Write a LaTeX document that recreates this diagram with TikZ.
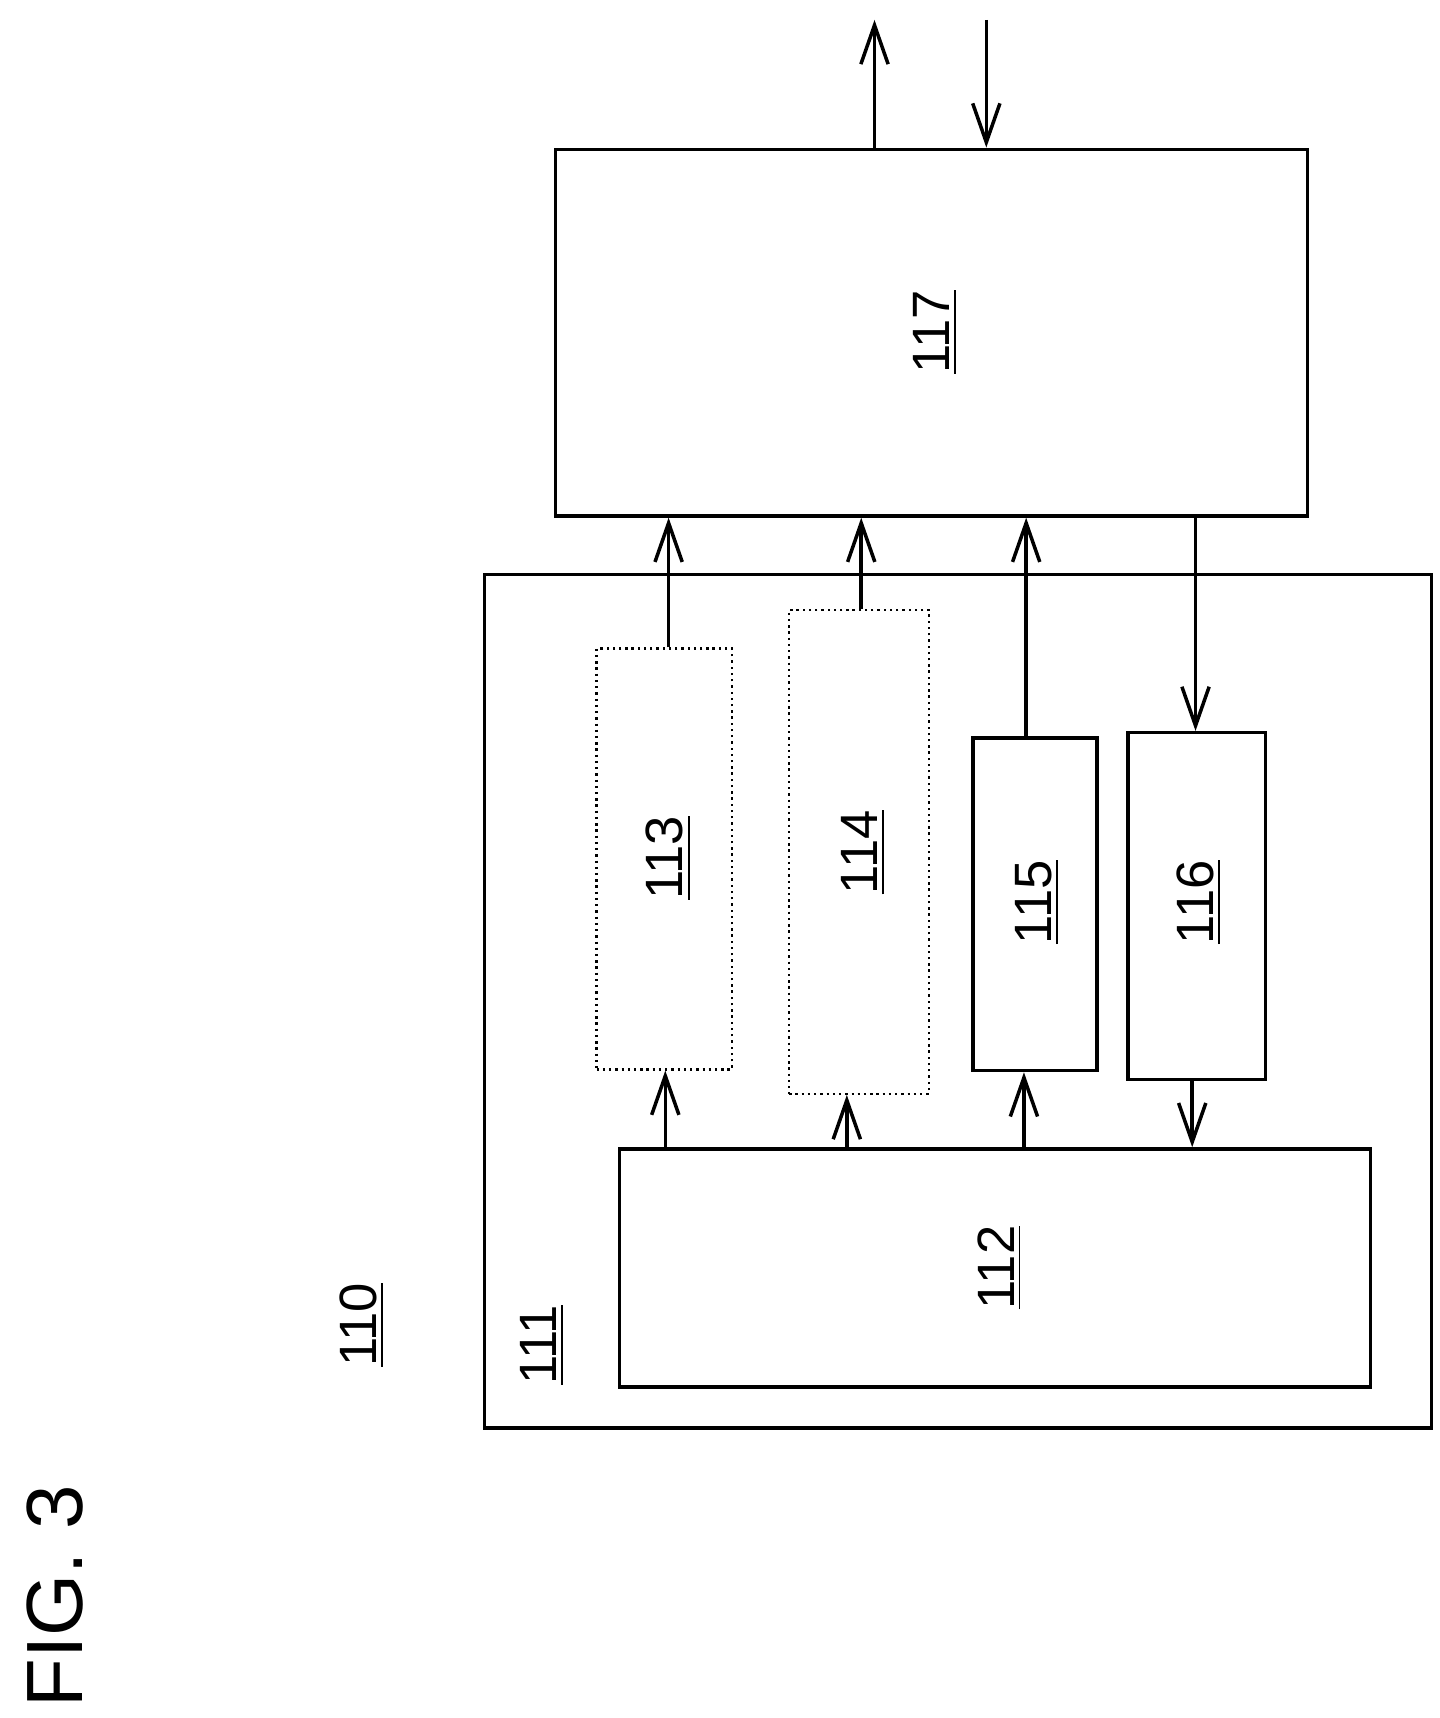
\documentclass[tikz,border=0pt]{standalone}
\usepackage{fontspec}
\setmainfont{Liberation Sans}
\usetikzlibrary{arrows.meta}
\begin{document}
\begin{tikzpicture}[x=0.01cm, y=-0.01cm,
  blk/.style={draw, line width=0.9pt, inner sep=0pt},
  dotblk/.style={blk, line width=0.6pt, densely dotted},
  lbl/.style={rotate=90, font=\fontsize{13.5}{14}\selectfont},
  arr/.style={line width=0.9pt, -{Straight Barb[length=10pt, width=7pt]}}]
  \useasboundingbox (0,0) rectangle (1300,1552);
  % Boxes
  \node[blk, minimum width=6.79cm, minimum height=3.31cm] (n117) at (841.5,300.5) {};
  \node[blk, minimum width=8.55cm, minimum height=7.71cm] (n111) at (865.5,904.5) {};
  \node[dotblk, minimum width=1.22cm, minimum height=3.80cm] (n113) at (600,776) {};
  \node[dotblk, minimum width=1.26cm, minimum height=4.37cm] (n114) at (776,769.5) {};
  \node[blk, minimum width=1.12cm, minimum height=3.00cm] (n115) at (935,817) {};
  \node[blk, minimum width=1.24cm, minimum height=3.13cm] (n116) at (1081,818.5) {};
  \node[blk, minimum width=6.78cm, minimum height=2.15cm] (n112) at (899,1145.5) {};
  % Labels
  \node[lbl] at (845,300) {\underline{117}};
  \node[lbl] at (604,775) {\underline{113}};
  \node[lbl] at (780,770) {\underline{114}};
  \node[lbl] at (937,815) {\underline{115}};
  \node[lbl] at (1083,815) {\underline{116}};
  \node[lbl] at (903,1145) {\underline{112}};
  \node[lbl] at (490,1215) {\underline{111}};
  \node[lbl] at (327,1197) {\underline{110}};
  \node[rotate=90, font=\fontsize{20.5}{22}\selectfont] (fig) at (50,1442) {FIG. 3};
  % External signals
  \coordinate (out) at (790,18);
  \coordinate (in) at (891,18);
  \draw[arr] (n117.north -| out) -- (out);
  \draw[arr] (in) -- (n117.north -| in);
  % Connections to 117
  \draw[arr] (n113.north -| 604,0) -- (n117.south -| 604,0);
  \draw[arr] (n114.north -| 778,0) -- (n117.south -| 778,0);
  \draw[arr] (n115.north -| 927,0) -- (n117.south -| 927,0);
  \draw[arr] (n117.south -| 1080,0) -- (n116.north -| 1080,0);
  % Connections to 112
  \draw[arr] (n112.north -| 601,0) -- (n113.south -| 601,0);
  \draw[arr] (n112.north -| 765,0) -- (n114.south -| 765,0);
  \draw[arr] (n112.north -| 925,0) -- (n115.south -| 925,0);
  \draw[arr] (n116.south -| 1077,0) -- (n112.north -| 1077,0);
\end{tikzpicture}
\end{document}
